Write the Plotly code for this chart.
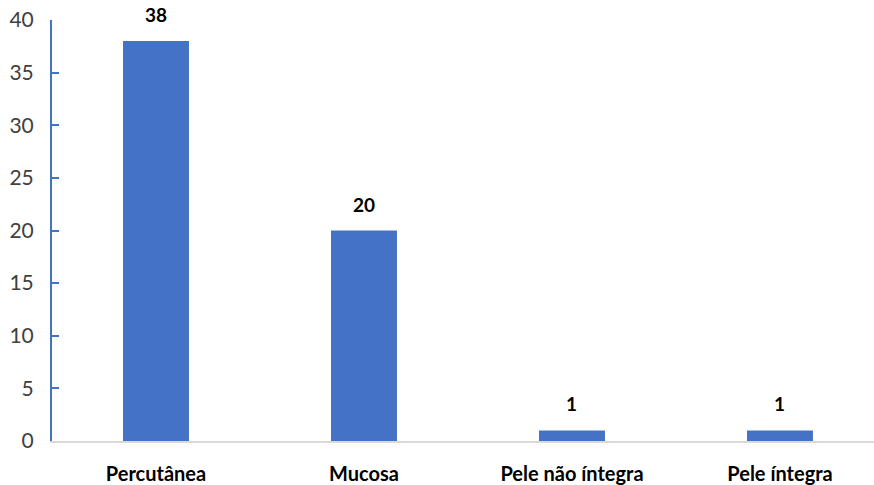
import plotly.graph_objects as go

categories = ["Percutânea", "Mucosa", "Pele não íntegra", "Pele íntegra"]
values = [38, 20, 1, 1]
y_ticks = [0, 5, 10, 15, 20, 25, 30, 35, 40]

FONT = "Lato, Open Sans, sans-serif"

fig = go.Figure(go.Bar(
    x=categories, y=values,
    marker=dict(color="#4472C4", line=dict(width=0)),
    width=0.317,
    cliponaxis=False,
))

for c, v in zip(categories, values):
    fig.add_annotation(
        x=c, y=v, text=f"<b>{v}</b>", showarrow=False,
        yanchor="bottom", yshift=13,
        font=dict(family=FONT, size=19, color="#000000"),
    )

fig.update_layout(
    width=874, height=485,
    margin=dict(l=52, r=0, t=20, b=44),
    paper_bgcolor="white", plot_bgcolor="white",
    showlegend=False,
)
fig.update_xaxes(
    range=[-0.5, 3.452],
    showline=True, linecolor="#D9D9D9", linewidth=2,
    showgrid=False, ticks="",
    tickfont=dict(family=FONT, size=20, color="#000000", weight="bold"),
    ticklabelstandoff=14,
)
fig.update_yaxes(
    range=[0, 40], tickvals=y_ticks,
    showline=True, linecolor="#4472C4", linewidth=2,
    ticks="inside", ticklen=7, tickcolor="#4472C4", tickwidth=2,
    showgrid=False, zeroline=False,
    tickfont=dict(family=FONT, size=21, color="#404040"),
    ticklabelstandoff=12,
)

fig.write_html("out.html")
